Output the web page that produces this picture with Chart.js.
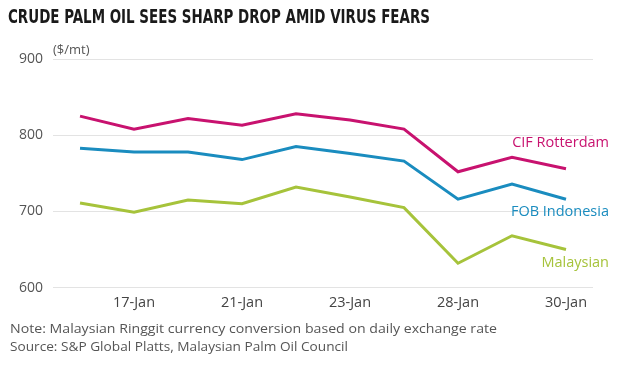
<!DOCTYPE html>
<html>
<head>
<meta charset="utf-8">
<script src="https://cdn.jsdelivr.net/npm/chart.js@4.4.1/dist/chart.umd.min.js"></script>
<style>
  html, body { margin: 0; padding: 0; background: #fff; }
  #wrap { position: relative; width: 636px; height: 378px; overflow: hidden; }
  #c { position: absolute; left: 0; top: 0; }
  .title { position: absolute; left: 8px; top: 5px; font-family: "DejaVu Sans Condensed", "DejaVu Sans", sans-serif; font-weight: bold; font-size: 19.5px; color: #1a1a1a; white-space: nowrap; transform-origin: 0 0; }
  .note { position: absolute; left: 10px; font-family: "Open Sans", "DejaVu Sans", sans-serif; font-size: 13.5px; color: #555; white-space: nowrap; transform-origin: 0 0; }
</style>
</head>
<body>
<div id="wrap">
  <canvas id="c" width="636" height="378"></canvas>
  <div class="title" id="t">CRUDE PALM OIL SEES SHARP DROP AMID VIRUS FEARS</div>
  <div class="note" id="n1" style="top:319px">Note: Malaysian Ringgit currency conversion based on daily exchange rate</div>
  <div class="note" id="n2" style="top:337px">Source: S&amp;P Global Platts, Malaysian Palm Oil Council</div>
</div>
<script>
const categories = ['16-Jan', '17-Jan', '20-Jan', '21-Jan', '22-Jan', '23-Jan', '24-Jan', '28-Jan', '29-Jan', '30-Jan'];
const shownTickLabels = ['17-Jan', '21-Jan', '23-Jan', '28-Jan', '30-Jan'];
const cifRotterdam = [825, 808, 822, 813, 828, 820, 808, 752, 771, 756];
const fobIndonesia = [783, 778, 778, 768, 785, 776, 766, 716, 736, 716];
const malaysian = [711, 699, 715, 710, 732, 719, 705, 632, 668, 650];
const yTicks = [600, 700, 800, 900];
const seriesNames = ['CIF Rotterdam', 'FOB Indonesia', 'Malaysian'];
const unitLabel = '($/mt)';

// fit title/notes to the reference widths
function fitWidth(id, w) {
  const el = document.getElementById(id);
  const cur = el.getBoundingClientRect().width;
  el.style.transform = 'scaleX(' + (w / cur) + ')';
}
fitWidth('t', 422);
fitWidth('n1', 487);
fitWidth('n2', 338);

const colors = ['#c8126f', '#1a8cbf', '#a6c33b'];
const labelOffsets = [-26, 13, 13];

const endLabels = {
  id: 'endLabels',
  afterDatasetsDraw(chart) {
    const ctx = chart.ctx;
    const area = chart.chartArea;
    ctx.save();
    ctx.font = '14.5px "Open Sans", "DejaVu Sans", sans-serif';
    ctx.textAlign = 'right';
    ctx.textBaseline = 'middle';
    chart.data.datasets.forEach((ds, i) => {
      const meta = chart.getDatasetMeta(i);
      const last = meta.data[meta.data.length - 1];
      ctx.fillStyle = colors[i];
      ctx.fillText(ds.label, area.right + 16, last.y + labelOffsets[i]);
    });
    ctx.fillStyle = '#555';
    ctx.textAlign = 'left';
    ctx.font = '13px "Open Sans", "DejaVu Sans", sans-serif';
    ctx.fillText(unitLabel, area.left, area.top - 9);
    ctx.restore();
  }
};

new Chart(document.getElementById('c'), {
  type: 'line',
  data: {
    labels: categories,
    datasets: [
      { label: seriesNames[0], data: cifRotterdam, borderColor: colors[0] },
      { label: seriesNames[1], data: fobIndonesia, borderColor: colors[1] },
      { label: seriesNames[2], data: malaysian, borderColor: colors[2] }
    ]
  },
  options: {
    responsive: false,
    animation: false,
    devicePixelRatio: 1,
    layout: { padding: { left: 9, right: 43, top: 59, bottom: 59 } },
    elements: {
      line: { borderWidth: 3, tension: 0, borderJoinStyle: 'miter' },
      point: { radius: 0 }
    },
    plugins: { legend: { display: false }, tooltip: { enabled: false }, title: { display: false } },
    scales: {
      x: {
        offset: true,
        grid: { display: false, drawTicks: false },
        border: { display: false },
        ticks: {
          autoSkip: false,
          maxRotation: 0,
          padding: 7,
          color: '#444',
          font: { family: '"Open Sans", "DejaVu Sans", sans-serif', size: 14.5 },
          callback: function(val) {
            const lab = this.getLabelForValue(val);
            return shownTickLabels.includes(lab) ? lab : '';
          }
        }
      },
      y: {
        min: 600, max: 900,
        afterBuildTicks: (axis) => { axis.ticks = yTicks.map(v => ({ value: v })); },
        grid: { color: '#e3e3e3', lineWidth: 1, drawTicks: false },
        border: { display: false },
        ticks: {
          padding: 10,
          color: '#555',
          font: { family: '"Open Sans", "DejaVu Sans", sans-serif', size: 14 }
        }
      }
    }
  },
  plugins: [endLabels]
});
</script>
</body>
</html>
